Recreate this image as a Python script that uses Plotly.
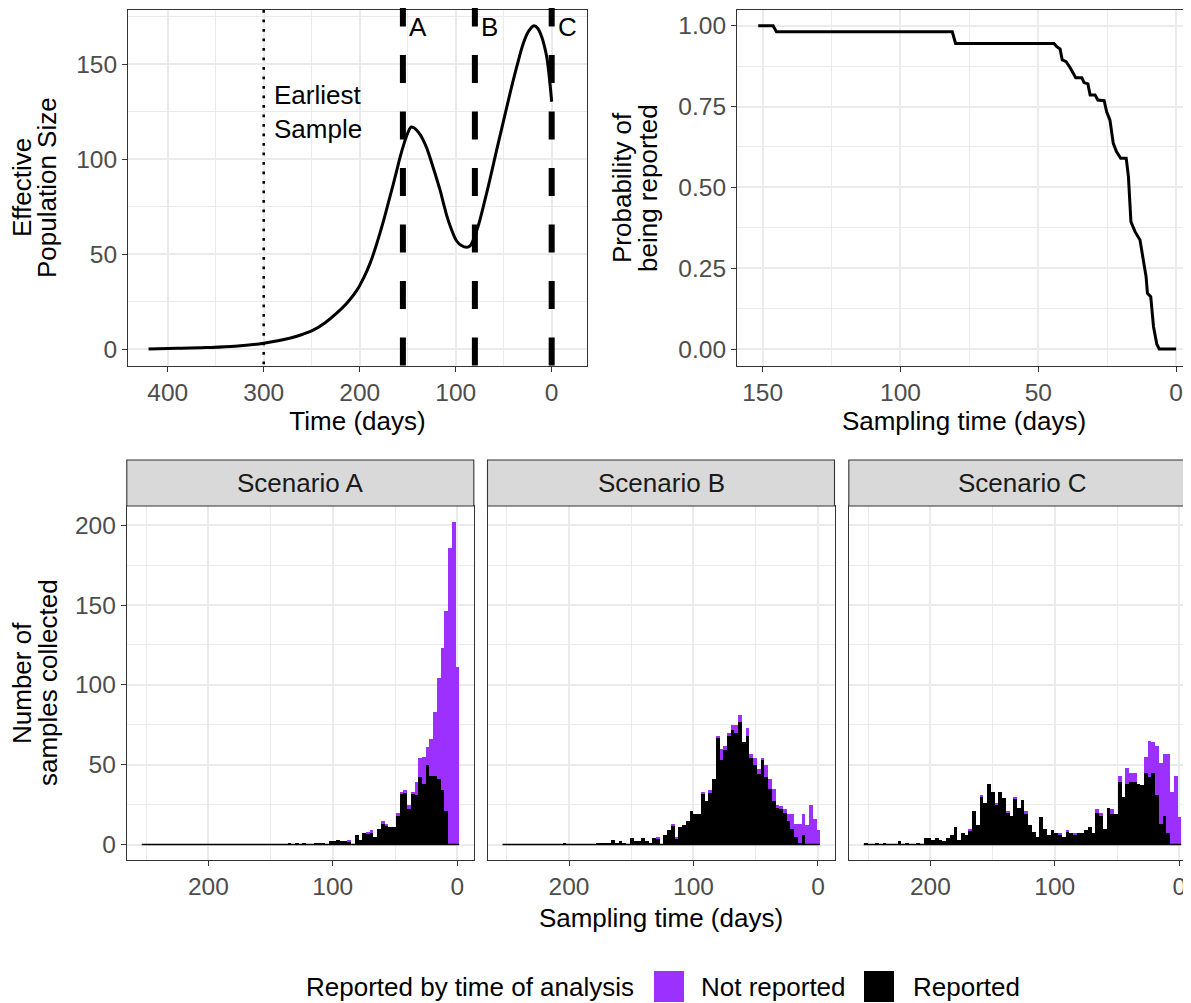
import plotly.graph_objects as go

# ---------------- data ----------------
# Top-left: effective population size trajectory (time in days before present)
ne_time = [420, 390, 360, 330, 300, 273, 260, 248, 236, 224, 213, 203, 196, 189, 182, 175,
           170, 165, 161, 158, 154, 151, 148.5, 146.6, 143.5, 140.6, 137, 133.7, 130, 126.8,
           121.5, 116.4, 112.8, 109.4, 104, 99, 94, 88.5, 85, 81.7, 76.5, 71.3, 64.3, 57.3,
           50.3, 43.4, 36.5, 29.6, 24, 18.4, 14.4, 10.4, 7.8, 5.2, 2.6, 0]
ne_size = [0.2, 0.5, 0.9, 1.6, 3.2, 5.8, 7.8, 10.2, 14, 19, 24.5, 31, 37.5, 45.5, 56, 68,
           77.5, 87, 95, 101, 108, 112.5, 115.5, 117, 116.6, 115.3, 113, 110, 105.7, 101,
           92.5, 84, 77, 70.5, 62.5, 57, 54.6, 53.7, 54.4, 57.5, 65, 75, 89.5, 105,
           120, 134.7, 148.5, 161, 167.5, 170.3, 168.9, 164.5, 160, 154, 144, 130.3]
earliest_sample = 300
scenario_times = [155, 80, 0]
scenario_labels = ["A", "B", "C"]

# Top-right: probability of being reported vs sampling time
rep_time = [151.6, 146.2, 145, 81.2, 80, 44.3, 43.3, 42.1, 41.3, 39.9, 38.5, 36.4, 34.2,
            33.4, 32, 31.2, 29.4, 28.4, 26.1, 25.2, 24, 22.8, 21.6, 20.1, 18.1, 17.3,
            16.4, 14.9, 13.1, 11.9, 10.9, 10.4, 9.2, 8.2, 7, 6.1, 0]
rep_prob = [1.0, 1.0, 0.981, 0.981, 0.945, 0.945, 0.935, 0.928, 0.894, 0.889, 0.871,
            0.839, 0.839, 0.824, 0.820, 0.786, 0.786, 0.770, 0.768, 0.734, 0.708, 0.636,
            0.610, 0.590, 0.590, 0.533, 0.394, 0.363, 0.337, 0.275, 0.224, 0.172,
            0.162, 0.069, 0.015, 0.0, 0.0]

# Bottom: histograms of sampling times (3-day bins)
bin_width = 3
bin_centers = [0, 3, 6, 9, 12, 15, 18, 21, 24, 27, 30, 33, 36, 39, 42, 45, 48, 51, 54, 57,
               60, 63, 66, 69, 72, 75, 78, 81, 84, 87, 90, 93, 96, 99, 102, 105, 108, 111,
               114, 117, 120, 123, 126, 129, 132, 135, 138, 141, 144, 147, 150, 153, 156,
               159, 162, 165, 168, 171, 174, 177, 180, 183, 186, 189, 192, 195, 198, 201,
               204, 207, 210, 213, 216, 219, 222, 225, 228, 231, 234, 237, 240, 243, 246,
               249, 252]

a_reported = [0, 0, 0, 21, 34, 41, 43, 43, 50, 38, 42, 31, 32, 22, 32, 32, 18, 11, 11, 12,
              13, 10, 5, 7, 7, 7, 3, 6, 0, 2, 2, 2, 3, 2, 2, 0, 1, 1,
              1, 0, 0, 1, 0, 1, 0, 1, 0, 0, 0, 0, 0, 0, 0,
              0, 0, 0, 0, 0, 0, 0, 0, 0, 0, 0, 0, 0, 0, 0,
              0, 0, 0, 0, 0, 0, 0, 0, 0, 0, 0, 0, 0, 0, 0,
              0, 0]
a_not_reported = [111, 202, 186, 125, 89, 63, 40, 23, 11, 17, 12, 8, 1, 3, 2, 1, 2, 0, 0, 1,
                  2, 0, 0, 2, 1, 0, 0, 0, 0, 1, 0, 0, 0, 0, 0, 0, 0, 0,
                  0, 0, 0, 0, 0, 0, 0, 0, 0, 0, 0, 0, 0, 0, 0,
                  0, 0, 0, 0, 0, 0, 0, 0, 0, 0, 0, 0, 0, 0, 0,
                  0, 0, 0, 0, 0, 0, 0, 0, 0, 0, 0, 0, 0, 0, 0,
                  0, 0]

b_reported = [0, 0, 0, 0, 6, 1, 5, 10, 15, 20, 22, 23, 27, 35, 42, 53, 44, 50, 54, 68,
              64, 77, 70, 72, 68, 59, 53, 67, 41, 32, 27, 32, 19, 19, 21, 15, 12, 11,
              4, 12, 9, 6, 0, 4, 4, 1, 2, 4, 2, 2, 4, 0, 1,
              2, 1, 3, 1, 1, 1, 1, 0, 0, 0, 0, 0, 0, 0, 0,
              1, 0, 0, 0, 0, 0, 0, 0, 0, 0, 0, 0, 0, 0, 0,
              0, 0]
b_not_reported = [9, 16, 25, 12, 13, 12, 8, 9, 4, 2, 2, 2, 8, 6, 8, 1, 3, 4, 3, 5,
                  0, 4, 5, 3, 2, 3, 7, 1, 0, 2, 0, 1, 0, 0, 0, 0, 0, 0,
                  1, 1, 0, 0, 0, 1, 0, 0, 0, 0, 0, 0, 0, 0, 0,
                  0, 0, 0, 0, 0, 0, 0, 0, 0, 0, 0, 0, 0, 0, 0,
                  0, 0, 0, 0, 0, 0, 0, 0, 0, 0, 0, 0, 0, 0, 0,
                  0, 0]

c_reported = [0, 0, 0, 7, 18, 13, 31, 45, 42, 45, 37, 38, 39, 39, 38, 30, 39, 19, 19, 23,
              10, 18, 20, 7, 11, 9, 7, 7, 6, 7, 8, 5, 6, 7, 9, 6, 10, 17,
              5, 8, 12, 19, 28, 23, 29, 18, 20, 29, 33, 25, 33, 38, 26,
              30, 12, 21, 9, 6, 7, 3, 11, 6, 4, 2, 3, 4, 3, 4,
              4, 0, 1, 0, 0, 1, 0, 2, 0, 0, 0, 1, 0, 1, 0,
              0, 1]
c_not_reported = [17, 43, 33, 50, 39, 38, 31, 19, 23, 10, 0, 0, 6, 6, 10, 0, 4, 0, 3, 0,
                  0, 2, 2, 0, 0, 0, 0, 0, 1, 0, 1, 0, 1, 0, 0, 0, 0, 0,
                  0, 0, 0, 2, 0, 0, 1, 0, 1, 0, 0, 1, 0, 0, 0,
                  1, 0, 0, 1, 0, 0, 0, 0, 0, 0, 0, 0, 0, 0, 0,
                  0, 0, 0, 0, 0, 0, 0, 0, 0, 0, 0, 0, 0, 0, 0,
                  0, 0]

scenario_names = ["Scenario A", "Scenario B", "Scenario C"]
reported_sets = [a_reported, b_reported, c_reported]
not_reported_sets = [a_not_reported, b_not_reported, c_not_reported]

legend_title = "Reported by time of analysis"
legend_labels = ["Not reported", "Reported"]

# ---------------- style / geometry ----------------
SCREEN_W, SCREEN_H = 1191, 1003
OFF = 8  # page body margin
FW, FH = SCREEN_W - OFF, SCREEN_H - OFF
FONT = "Liberation Sans, Arial, Helvetica, sans-serif"
PURPLE = "#9B30FF"
GRID = "#EBEBEB"
BORDER = "#333333"
TICK_SIZE = 24.5
TITLE_SIZE = 26


def px(x):
    return (x - OFF) / FW


def py(y):
    return 1 - (y - OFF) / FH


def axis_style(dtick, minor_dtick, **kw):
    d = dict(showline=True, linecolor=BORDER, linewidth=1.1, mirror=True,
             ticks="outside", ticklen=5, tickcolor=BORDER, tickwidth=1.1,
             tickfont=dict(size=TICK_SIZE, color="#4D4D4D", family=FONT),
             showgrid=True, gridcolor=GRID, gridwidth=1.5, zeroline=False,
             tick0=0, dtick=dtick,
             minor=dict(dtick=minor_dtick, tick0=0, showgrid=True, gridcolor=GRID,
                        gridwidth=0.7, ticks=""),
             title_font=dict(size=TITLE_SIZE, color="black", family=FONT))
    d.update(kw)
    return d


fig = go.Figure()

# Top-left curve
fig.add_trace(go.Scatter(x=ne_time, y=ne_size, mode="lines",
                         line=dict(color="black", width=3, shape="spline", smoothing=1),
                         xaxis="x", yaxis="y", showlegend=False, hoverinfo="skip"))
# Top-right step curve
fig.add_trace(go.Scatter(x=rep_time, y=rep_prob, mode="lines", line=dict(color="black", width=3),
                         xaxis="x2", yaxis="y2", showlegend=False, hoverinfo="skip"))

# Bottom histograms
for i in range(3):
    xa = "x%d" % (i + 3)
    ya = "y%d" % (i + 3)
    fig.add_trace(go.Bar(x=bin_centers, y=reported_sets[i], width=bin_width,
                         marker=dict(color="black", line=dict(width=0)),
                         name=legend_labels[1], xaxis=xa, yaxis=ya, showlegend=False))
    fig.add_trace(go.Bar(x=bin_centers, y=not_reported_sets[i], width=bin_width,
                         marker=dict(color=PURPLE, line=dict(width=0)),
                         name=legend_labels[0], xaxis=xa, yaxis=ya, showlegend=False))
    fig.add_trace(go.Scatter(x=[max(bin_centers) + bin_width / 2, min(bin_centers) - bin_width / 2],
                             y=[0, 0], mode="lines", line=dict(color="black", width=1.3),
                             xaxis=xa, yaxis=ya, showlegend=False, hoverinfo="skip"))

shapes = []
annotations = []

# vertical reference lines (top-left); drawn from just above the panel top downwards
top_panel = (10, 366)
dash_start = 1 + 11.5 / (top_panel[1] - top_panel[0])
shapes.append(dict(type="line", xref="x", yref="y domain", x0=earliest_sample, x1=earliest_sample,
                   y0=1, y1=0, line=dict(color="black", width=2.6, dash="2.7px,6.8px")))
for t, lab in zip(scenario_times, scenario_labels):
    shapes.append(dict(type="line", xref="x", yref="y domain", x0=t, x1=t, y0=dash_start, y1=0,
                       line=dict(color="black", width=6, dash="28px,28.5px")))
    annotations.append(dict(text=lab, x=t, xref="x", y=0.953, yref="y domain", xanchor="left",
                            yanchor="middle", xshift=4, showarrow=False,
                            font=dict(size=TITLE_SIZE, color="black", family=FONT)))
annotations.append(dict(text="Earliest<br>Sample", x=earliest_sample, xref="x", y=125, yref="y",
                        xanchor="left", yanchor="middle", xshift=8, align="left", showarrow=False,
                        font=dict(size=TITLE_SIZE, color="black", family=FONT)))

# y-axis titles (two rotated lines each)
ytitles = [(["Effective", "Population Size"], [22, 47], 188),
           (["Probability of", "being reported"], [622, 648], 188),
           (["Number of", "samples collected"], [22, 48], 683)]
for lines, xs_, cy in ytitles:
    for txt, cx in zip(lines, xs_):
        annotations.append(dict(text=txt, xref="paper", yref="paper", x=px(cx), y=py(cy),
                                xanchor="center", yanchor="middle", textangle=-90, showarrow=False,
                                font=dict(size=TITLE_SIZE, color="black", family=FONT)))

# facet strips
panel_w = 347
bottom_x = [(126.8, 473.8), (487.5, 834.5), (848.8, SCREEN_W)]
strip_top, strip_bot = 460, 506
for (x0, x1), name in zip(bottom_x, scenario_names):
    shapes.append(dict(type="rect", xref="paper", yref="paper", x0=px(x0), x1=px(x1),
                       y0=py(strip_bot), y1=py(strip_top), fillcolor="#D9D9D9",
                       line=dict(color=BORDER, width=1.1), layer="above"))
    annotations.append(dict(text=name, xref="paper", yref="paper", x=px(x0 + panel_w / 2),
                            y=py((strip_top + strip_bot) / 2), xanchor="center", yanchor="middle",
                            showarrow=False, font=dict(size=TITLE_SIZE, color="#1A1A1A", family=FONT)))

# custom legend
annotations.append(dict(text=legend_title, xref="paper", yref="paper", x=px(304), y=py(987),
                        xanchor="left", yanchor="middle", showarrow=False,
                        font=dict(size=TITLE_SIZE, color="black", family=FONT)))
key_colors = [PURPLE, "black"]
key_x = [654, 864]
text_x = [699, 911]
for kx, tx, col, lab in zip(key_x, text_x, key_colors, legend_labels):
    shapes.append(dict(type="rect", xref="paper", yref="paper", x0=px(kx), x1=px(kx + 30),
                       y0=py(1002), y1=py(971), fillcolor=col, line=dict(width=0)))
    annotations.append(dict(text=lab, xref="paper", yref="paper", x=px(tx), y=py(987),
                            xanchor="left", yanchor="middle", showarrow=False,
                            font=dict(size=TITLE_SIZE, color="black", family=FONT)))

top_y = [py(366), py(10)]
bot_y = [py(860), py(506)]

layout = dict(
    width=FW, height=FH, autosize=False,
    margin=dict(l=0, r=0, t=0, b=0),
    paper_bgcolor="white", plot_bgcolor="white",
    font=dict(family=FONT, color="black"),
    barmode="stack", bargap=0,
    showlegend=False,
    shapes=shapes, annotations=annotations,
    xaxis=axis_style(100, 50, domain=[px(128), px(587)], range=[441.4, -36.8], anchor="y",
                     title=dict(text="Time (days)", standoff=4)),
    yaxis=axis_style(50, 25, domain=top_y, range=[-8.8, 178.6], anchor="x"),
    xaxis2=axis_style(50, 25, domain=[px(737), 1], range=[159.3, -5.4], anchor="y2",
                      title=dict(text="Sampling time (days)", standoff=4)),
    yaxis2=axis_style(0.25, 0.125, domain=top_y, range=[-0.0526, 1.0486], tickformat=".2f",
                      anchor="x2"),
)
bottom_range = [265.5, -13.3]
for i, (x0, x1) in enumerate(bottom_x):
    xk = "xaxis%d" % (i + 3)
    yk = "yaxis%d" % (i + 3)
    rng = [bottom_range[0], bottom_range[0] - (x1 - x0) / 1.2446]
    xs = axis_style(100, 50, domain=[px(x0), px(x1)], range=rng, anchor="y%d" % (i + 3))
    ys = axis_style(50, 25, domain=bot_y, range=[-9.7, 212], anchor="x%d" % (i + 3))
    if i == 1:
        xs["title"] = dict(text="Sampling time (days)", standoff=9)
    if i > 0:
        ys["showticklabels"] = False
        ys["ticks"] = ""
    layout[xk] = xs
    layout[yk] = ys

fig.update_layout(**layout)
fig.write_html("out.html")
